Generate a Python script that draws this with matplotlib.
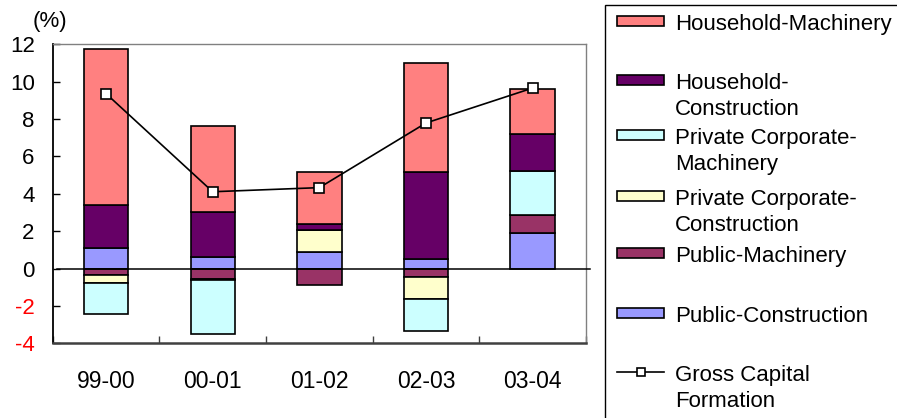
import matplotlib
matplotlib.use("Agg")
import matplotlib.pyplot as plt
import numpy as np
from matplotlib.patches import Rectangle
from matplotlib.lines import Line2D

plt.rcParams['font.family'] = ['Liberation Sans', 'DejaVu Sans']

# Fiscal-year periods
periods = ["99-00", "00-01", "01-02", "02-03", "03-04"]

# Contribution to growth (percentage points), stacked in this order
public_construction = [1.10, 0.62, 0.90, 0.53, 1.89]
public_machinery = [-0.36, -0.57, -0.86, -0.45, 0.98]
private_corp_construction = [-0.39, -0.05, 1.18, -1.18, 0.00]
private_corp_machinery = [-1.68, -2.90, 0.00, -1.71, 2.35]
household_construction = [2.29, 2.39, 0.32, 4.62, 2.00]
household_machinery = [8.38, 4.62, 2.78, 5.85, 2.39]

# Gross capital formation growth (%)
gross_capital_formation = [9.36, 4.11, 4.33, 7.79, 9.66]

series_names = ["Public-Construction", "Public-Machinery",
                "Private Corporate-Construction", "Private Corporate-Machinery",
                "Household-Construction", "Household-Machinery"]
series_values = [public_construction, public_machinery,
                 private_corp_construction, private_corp_machinery,
                 household_construction, household_machinery]
series_colors = ["#9999FF", "#993366", "#FFFFCC", "#CCFFFF", "#660066", "#FF8080"]

legend_labels = ["Household-Machinery", "Household-\nConstruction",
                 "Private Corporate-\nMachinery", "Private Corporate-\nConstruction",
                 "Public-Machinery", "Public-Construction", "Gross Capital\nFormation"]

yticks = [-4, -2, 0, 2, 4, 6, 8, 10, 12]

W, H = 897, 418
fig = plt.figure(figsize=(W / 100, H / 100), dpi=100)


def fx(x):
    return x / W


def fy(y):
    return 1 - y / H


ax = fig.add_axes([fx(52.7), fy(343.3), fx(586) - fx(52.7), fy(44.3) - fy(343.3)])

x = np.arange(len(periods))
bar_w = 0.416
pos_base = np.zeros(len(periods))
neg_base = np.zeros(len(periods))
for name, vals, col in zip(series_names, series_values, series_colors):
    v = np.array(vals, dtype=float)
    base = np.where(v >= 0, pos_base, neg_base)
    ax.bar(x, v, bar_w, bottom=base, color=col, edgecolor="black",
           linewidth=1.2, label=name, zorder=2)
    pos_base += np.where(v >= 0, v, 0)
    neg_base += np.where(v < 0, v, 0)

ax.axhline(0, xmin=0.008, xmax=1.008, color="black", linewidth=1.1,
           clip_on=False, zorder=3)

ax.plot(x, gross_capital_formation, color="black", linewidth=1.2,
        marker="s", markersize=7, markerfacecolor="white",
        markeredgecolor="black", markeredgewidth=1.2, zorder=4)

ax.set_xlim(-0.5, len(periods) - 0.5)
ax.set_ylim(-4, 12)
ax.set_yticks(yticks)
ax.set_yticklabels([str(t) for t in yticks])
for lbl, t in zip(ax.get_yticklabels(), yticks):
    lbl.set_color("red" if t < 0 else "black")
ax.tick_params(axis="y", direction="in", length=5, width=1, labelsize=16, pad=13)

ax.set_xticks(x)
ax.set_xticklabels(periods)
ax.set_xticks(np.arange(-0.5, len(periods)), minor=True)
ax.tick_params(axis="x", which="major", length=0, labelsize=16.5, pad=19)
ax.tick_params(axis="x", which="minor", direction="in", length=5, width=1,
               color="#404040")

ax.spines["left"].set_color("black")
ax.spines["left"].set_linewidth(1.3)
ax.spines["bottom"].set_color("#404040")
ax.spines["bottom"].set_linewidth(1.8)
for s in ("top", "right"):
    ax.spines[s].set_color("#808080")
    ax.spines[s].set_linewidth(1.0)

fig.text(fx(50), fy(21), "(%)", fontsize=16, ha="center", va="center")

# Legend panel
fig.add_artist(Rectangle((fx(605), fy(430)), fx(320), fy(5) - fy(430),
                         transform=fig.transFigure, facecolor="white",
                         edgecolor="black", linewidth=1.0))

legend_colors = series_colors[::-1]
first_line = [21, 80, 135, 196, 253, 313, 372]
line_gap = 26
for i, (lab, yc) in enumerate(zip(legend_labels, first_line)):
    if i < len(legend_colors):
        fig.add_artist(Rectangle((fx(617), fy(yc + 5)), fx(664) - fx(617),
                                 fy(yc - 5) - fy(yc + 5),
                                 transform=fig.transFigure,
                                 facecolor=legend_colors[i], edgecolor="black",
                                 linewidth=1.2))
    else:
        fig.add_artist(Line2D([fx(617), fx(664)], [fy(yc), fy(yc)],
                              transform=fig.transFigure, color="black",
                              linewidth=1.2, zorder=3))
        fig.add_artist(Line2D([fx(640.5)], [fy(yc)], transform=fig.transFigure,
                              linestyle="none", marker="s", markersize=6,
                              markerfacecolor="white", markeredgecolor="black",
                              markeredgewidth=1.2, zorder=4))
    for j, part in enumerate(lab.split("\n")):
        fig.text(fx(675), fy(yc + 9 + j * line_gap), part, fontsize=16,
                 ha="left", va="baseline")

fig.savefig("out.png", dpi=100)
